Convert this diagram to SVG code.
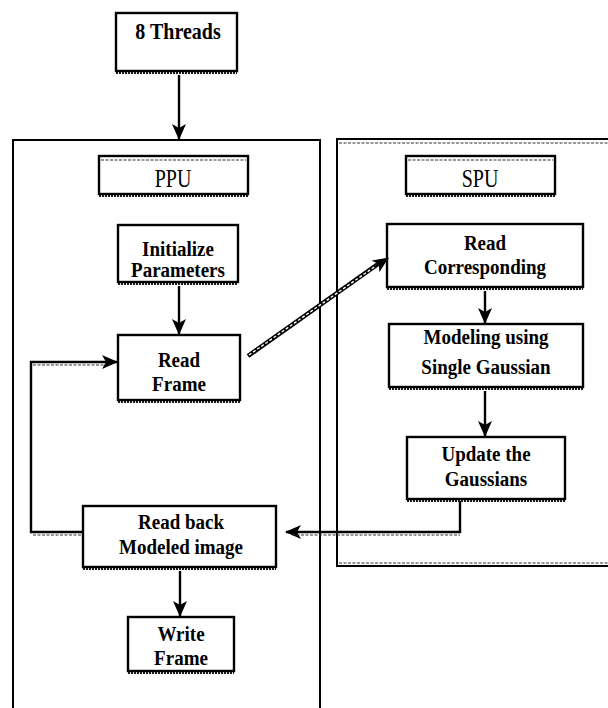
<svg xmlns="http://www.w3.org/2000/svg" width="608" height="708" viewBox="0 0 608 708">
  <style>
    .box { fill: #ffffff; stroke: #000000; stroke-width: 2.4; }
    .shade { fill: none; stroke: #1a1a1a; stroke-width: 2.2; stroke-dasharray: 2 1; }
    .dash { fill: none; stroke: #333333; stroke-width: 1.2; stroke-dasharray: 3 1.5; }
    .frame { fill: none; stroke: #000000; stroke-width: 2; }
    .wire { fill: none; stroke: #000000; stroke-width: 2.4; }
    .lbl { font-family: "Liberation Serif", "Times New Roman", serif; font-weight: bold; font-size: 19px; fill: #000000; text-anchor: middle; }
    .hdr { font-family: "Liberation Serif", "Times New Roman", serif; font-size: 20px; fill: #000000; text-anchor: middle; }
  </style>
  <defs>
    <marker id="head" viewBox="0 0 16 14" refX="15" refY="7" markerWidth="16" markerHeight="14" markerUnits="userSpaceOnUse" orient="auto">
      <path d="M0,0 L16,7 L0,14 L4,7 Z" fill="#000000"/>
    </marker>
  </defs>

  <rect width="608" height="708" fill="#ffffff"/>

  <!-- processor containers -->
  <g id="ppu-container">
    <path class="frame" d="M13,708 V140 H320 V708"/>
  </g>
  <g id="spu-container">
    <path class="frame" d="M608,139 H337 V566 H608"/>
    <line class="dash" x1="339" y1="143" x2="608" y2="143"/>
    <line class="dash" x1="339" y1="563" x2="608" y2="563"/>
  </g>

  <!-- headers -->
  <g id="ppu-header">
    <rect class="box" x="99" y="156" width="149" height="38"/>
    <line class="dash" x1="101" y1="160" x2="246" y2="160"/>
    <line class="shade" x1="99" y1="196" x2="248" y2="196"/>
    <text class="hdr" transform="translate(173,187) scale(1,1.25)">PPU</text>
  </g>
  <g id="spu-header">
    <rect class="box" x="406" y="156" width="149" height="38"/>
    <line class="dash" x1="408" y1="160" x2="553" y2="160"/>
    <line class="shade" x1="406" y1="196" x2="555" y2="196"/>
    <text class="hdr" transform="translate(480,187) scale(1,1.25)">SPU</text>
  </g>

  <!-- process nodes -->
  <g id="threads">
    <rect class="box" x="116" y="13" width="121" height="58"/>
    <line class="shade" x1="116" y1="73" x2="237" y2="73"/>
    <text class="lbl" style="font-size:20px" transform="translate(178,39) scale(1,1.15)">8 Threads</text>
  </g>
  <g id="init-params">
    <rect class="box" x="118" y="225" width="120" height="57"/>
    <line class="shade" x1="118" y1="284" x2="238" y2="284"/>
    <text class="lbl" transform="translate(178,256) scale(1,1.1)">Initialize</text>
    <text class="lbl" transform="translate(178,277) scale(1,1.1)">Parameters</text>
  </g>
  <g id="read-frame">
    <rect class="box" x="118" y="335" width="122" height="65"/>
    <line class="shade" x1="118" y1="402" x2="240" y2="402"/>
    <text class="lbl" transform="translate(179,367) scale(1,1.1)">Read</text>
    <text class="lbl" transform="translate(179,391) scale(1,1.1)">Frame</text>
  </g>
  <g id="read-corresponding">
    <rect class="box" x="387" y="224" width="196" height="63"/>
    <line class="shade" x1="387" y1="289" x2="583" y2="289"/>
    <text class="lbl" transform="translate(485,250) scale(1,1.1)">Read</text>
    <text class="lbl" transform="translate(485,274) scale(1,1.1)">Corresponding</text>
  </g>
  <g id="single-gaussian">
    <rect class="box" x="389" y="324" width="194" height="63"/>
    <line class="shade" x1="389" y1="389" x2="583" y2="389"/>
    <text class="lbl" transform="translate(486,344) scale(1,1.1)">Modeling using</text>
    <text class="lbl" transform="translate(486,374) scale(1,1.1)">Single Gaussian</text>
  </g>
  <g id="update-gaussians">
    <rect class="box" x="407" y="437" width="158" height="62"/>
    <line class="shade" x1="407" y1="501" x2="565" y2="501"/>
    <text class="lbl" transform="translate(486,461) scale(1,1.1)">Update the</text>
    <text class="lbl" transform="translate(486,486) scale(1,1.1)">Gaussians</text>
  </g>
  <g id="read-back">
    <rect class="box" x="83" y="506" width="193" height="61"/>
    <line class="shade" x1="83" y1="569" x2="276" y2="569"/>
    <text class="lbl" transform="translate(181,529) scale(1,1.1)">Read back</text>
    <text class="lbl" transform="translate(181,554) scale(1,1.1)">Modeled image</text>
  </g>
  <g id="write-frame">
    <rect class="box" x="128" y="617" width="106" height="54"/>
    <line class="shade" x1="128" y1="673" x2="234" y2="673"/>
    <text class="lbl" transform="translate(181,641) scale(1,1.1)">Write</text>
    <text class="lbl" transform="translate(181,665) scale(1,1.1)">Frame</text>
  </g>

  <!-- connectors -->
  <g id="connectors">
    <line class="wire" x1="179" y1="75" x2="179" y2="139" marker-end="url(#head)"/>
    <line class="wire" x1="179" y1="286" x2="179" y2="334" marker-end="url(#head)"/>
    <line class="wire" x1="485" y1="291" x2="485" y2="323" marker-end="url(#head)"/>
    <line class="wire" x1="485" y1="391" x2="485" y2="436" marker-end="url(#head)"/>
    <line class="wire" x1="180" y1="571" x2="180" y2="616" marker-end="url(#head)"/>
    <!-- data hand-off to the SPU: drawn as a double line -->
    <line x1="248" y1="356" x2="378" y2="264" stroke="#000000" stroke-width="4.5"/>
    <line x1="249" y1="355" x2="377" y2="265" stroke="#ffffff" stroke-width="1.4" stroke-dasharray="3 2"/>
    <path d="M376,266 L388,258" stroke="#000000" stroke-width="2.4" marker-end="url(#head)"/>
    <!-- modeled image returned to the PPU -->
    <path class="wire" d="M460,501 V532 H286" marker-end="url(#head)"/>
    <line class="dash" x1="292" y1="535" x2="460" y2="535"/>
    <!-- loop back to the next frame -->
    <path class="wire" d="M83,532 H31 V362 H117" marker-end="url(#head)"/>
    <line class="dash" x1="33" y1="535" x2="83" y2="535"/>
    <line class="dash" x1="33" y1="365" x2="106" y2="365"/>
  </g>
</svg>
